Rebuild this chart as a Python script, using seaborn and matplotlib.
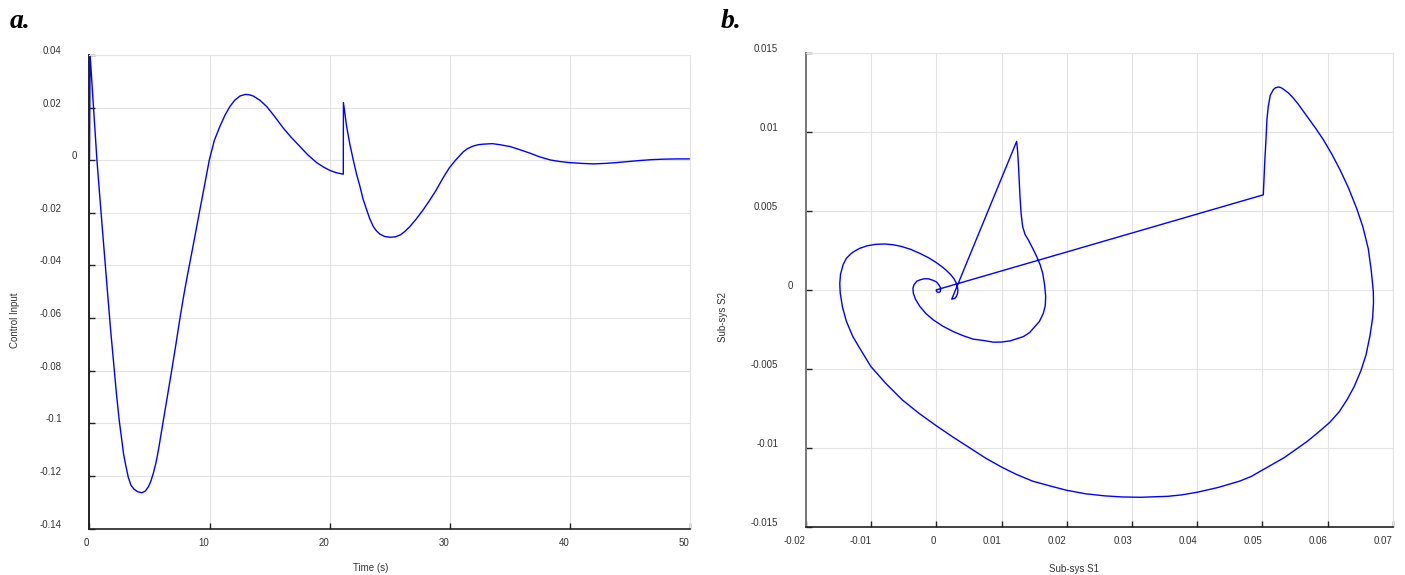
import numpy as np
import pandas as pd
import matplotlib
matplotlib.use("Agg")
import matplotlib.pyplot as plt
from matplotlib.transforms import ScaledTranslation
import seaborn as sns

# ---- panel a: control input over time ----
time_s = [0.00, 0.05, 0.35, 0.62, 1.00, 1.48, 1.75, 2.07, 2.25, 2.48, 2.65, 2.85,
          3.00, 3.23, 3.45, 3.70, 4.00, 4.35, 4.65, 4.90, 5.10, 5.32, 5.55, 5.75,
          5.95, 6.15, 6.50, 6.90, 7.20, 7.54, 7.85, 8.15, 8.50, 8.85, 9.20, 9.60,
          9.98, 10.40, 10.88, 11.30, 11.70, 12.10, 12.54, 12.96, 13.30, 13.65,
          14.20, 14.77, 15.40, 16.15, 16.85, 17.54, 18.20, 18.93, 19.50, 20.04,
          20.60, 21.15, 21.16, 21.43, 21.70, 21.98, 22.25, 22.54, 22.80, 23.10,
          23.35, 23.65, 23.90, 24.20, 24.60, 25.10, 25.50, 25.90, 26.30, 26.70,
          27.20, 27.80, 28.35, 28.90, 29.45, 30.00, 30.50, 31.15, 31.50, 31.98,
          32.40, 32.80, 33.57, 34.20, 35.04, 35.80, 36.70, 37.50, 38.40, 39.20,
          40.00, 41.00, 42.00, 43.00, 43.90, 44.90, 45.90, 46.80, 47.80, 48.90,
          50.00]
control_input = [0.0000, 0.0400, 0.0190, 0.0000, -0.0220, -0.0490, -0.0640, -0.0800,
                 -0.0890, -0.0990, -0.1050, -0.1120, -0.1155, -0.1205, -0.1235,
                 -0.1250, -0.1260, -0.1264, -0.1258, -0.1242, -0.1222, -0.1190,
                 -0.1148, -0.1100, -0.1045, -0.0990, -0.0895, -0.0785, -0.0700,
                 -0.0600, -0.0515, -0.0440, -0.0357, -0.0273, -0.0188, -0.0092,
                 0.0000, 0.0075, 0.0130, 0.0172, 0.0204, 0.0228, 0.0244, 0.0250,
                 0.0249, 0.0244, 0.0228, 0.0204, 0.0168, 0.0122, 0.0085, 0.0052,
                 0.0020, -0.0009, -0.0026, -0.0039, -0.0048, -0.0053, 0.0219,
                 0.0128, 0.0060, 0.0001, -0.0052, -0.0100, -0.0148, -0.0189,
                 -0.0222, -0.0252, -0.0268, -0.0281, -0.0290, -0.0293, -0.0291,
                 -0.0284, -0.0270, -0.0252, -0.0225, -0.0189, -0.0152, -0.0113,
                 -0.0068, -0.0028, 0.0000, 0.0032, 0.0044, 0.0054, 0.0059, 0.0061,
                 0.0063, 0.0059, 0.0052, 0.0041, 0.0027, 0.0013, 0.0001, -0.0005,
                 -0.0009, -0.0012, -0.0014, -0.0012, -0.0009, -0.0005, -0.0001,
                 0.0002, 0.0004, 0.0005, 0.0005]

# ---- panel b: phase portrait of the two sub-systems ----
sub_s1 = [0.00000, 0.05014, 0.05035, 0.05055, 0.05070, 0.05090, 0.05120, 0.05167,
          0.05200, 0.05244, 0.05280, 0.05320, 0.05400, 0.05474, 0.05540, 0.05680,
          0.05820, 0.05934, 0.06060, 0.06190, 0.06320, 0.06446, 0.06540, 0.06624,
          0.06670, 0.06701, 0.06704, 0.06690, 0.06650, 0.06590, 0.06512, 0.06410,
          0.06305, 0.06180, 0.06029, 0.05860, 0.05683, 0.05510, 0.05339, 0.05170,
          0.05000, 0.04830, 0.04650, 0.04320, 0.04002, 0.03760, 0.03546, 0.03132,
          0.02850, 0.02581, 0.02290, 0.02001, 0.01740, 0.01477, 0.01230, 0.00995,
          0.00750, 0.00512, 0.00250, 0.00000, -0.00270, -0.00523, -0.00780,
          -0.01005, -0.01160, -0.01281, -0.01380, -0.01440, -0.01475, -0.01482,
          -0.01470, -0.01430, -0.01380, -0.01320, -0.01274, -0.01180, -0.01069,
          -0.00930, -0.00788, -0.00660, -0.00550, -0.00400, -0.00250, -0.00120,
          0.00000, 0.00080, 0.00150, 0.00220, 0.00270, 0.00300, 0.00320, 0.00330,
          0.00325, 0.00310, 0.00285, 0.00235,
          0.01231, 0.01245, 0.01257, 0.01270, 0.01282, 0.01300, 0.01323, 0.01360,
          0.01410, 0.01480, 0.01538, 0.01590, 0.01630, 0.01660, 0.01676, 0.01670,
          0.01640, 0.01580, 0.01512, 0.01430, 0.01333, 0.01230, 0.01129, 0.01000,
          0.00873, 0.00720, 0.00566, 0.00410, 0.00259, 0.00100, -0.00048, -0.00160,
          -0.00252, -0.00320, -0.00354, -0.00360, -0.00344, -0.00300, -0.00252,
          -0.00190, -0.00124, -0.00050, 0.00005, 0.00040, 0.00066, 0.00060,
          0.00045, 0.00020, 0.00000, 0.00000]
sub_s2 = [0.00000, 0.00601, 0.00800, 0.00950, 0.01080, 0.01160, 0.01230, 0.01266,
          0.01278, 0.01283, 0.01280, 0.01270, 0.01245, 0.01213, 0.01180, 0.01100,
          0.01020, 0.00950, 0.00862, 0.00760, 0.00645, 0.00515, 0.00400, 0.00260,
          0.00120, -0.00010, -0.00080, -0.00180, -0.00290, -0.00410, -0.00510,
          -0.00610, -0.00690, -0.00770, -0.00840, -0.00900, -0.00960, -0.01010,
          -0.01060, -0.01100, -0.01140, -0.01180, -0.01210, -0.01250, -0.01280,
          -0.01297, -0.01306, -0.01312, -0.01310, -0.01303, -0.01290, -0.01268,
          -0.01240, -0.01210, -0.01168, -0.01120, -0.01063, -0.01000, -0.00930,
          -0.00860, -0.00780, -0.00696, -0.00590, -0.00485, -0.00380, -0.00296,
          -0.00200, -0.00110, -0.00020, 0.00040, 0.00100, 0.00160, 0.00200, 0.00225,
          0.00240, 0.00262, 0.00278, 0.00288, 0.00290, 0.00285, 0.00276, 0.00257,
          0.00230, 0.00203, 0.00172, 0.00148, 0.00124, 0.00096, 0.00070, 0.00047,
          0.00025, 0.00000, -0.00022, -0.00040, -0.00053, -0.00059,
          0.00939, 0.00880, 0.00802, 0.00690, 0.00590, 0.00480, 0.00400, 0.00350,
          0.00316, 0.00260, 0.00211, 0.00160, 0.00106, 0.00030, -0.00042, -0.00100,
          -0.00148, -0.00200, -0.00232, -0.00270, -0.00296, -0.00310, -0.00323,
          -0.00330, -0.00331, -0.00320, -0.00312, -0.00290, -0.00264, -0.00230,
          -0.00190, -0.00150, -0.00106, -0.00060, -0.00021, 0.00010, 0.00032,
          0.00055, 0.00063, 0.00070, 0.00070, 0.00060, 0.00049, 0.00030, 0.00011,
          -0.00010, -0.00015, -0.00015, -0.00010, 0.00000]

# ---- tick values and labels ----
a_xticks = [0, 10, 20, 30, 40, 50]
a_xlabels = ["0", "10", "20", "30", "40", "50"]
a_yticks = [0.04, 0.02, 0.0, -0.02, -0.04, -0.06, -0.08, -0.10, -0.12, -0.14]
a_ylabels = ["0.04", "0.02", "0", "-0.02", "-0.04", "-0.06", "-0.08", "-0.1", "-0.12", "-0.14"]
b_xticks = [-0.02, -0.01, 0.0, 0.01, 0.02, 0.03, 0.04, 0.05, 0.06, 0.07]
b_xlabels = ["-0.02", "-0.01", "0", "0.01", "0.02", "0.03", "0.04", "0.05", "0.06", "0.07"]
b_yticks = [0.015, 0.01, 0.005, 0.0, -0.005, -0.01, -0.015]
b_ylabels = ["0.015", "0.01", "0.005", "0", "-0.005", "-0.01", "-0.015"]

df_a = pd.DataFrame({"Time (s)": time_s, "Control Input": control_input})
df_b = pd.DataFrame({"Sub-sys S1": sub_s1, "Sub-sys S2": sub_s2})

sns.set_theme(style="whitegrid")
plt.rcParams["font.family"] = ["Liberation Sans", "DejaVu Sans"]

W, H = 1405, 575
fig = plt.figure(figsize=(W / 100, H / 100), dpi=100)


def box(left, top, right, bottom):
    return [left / W, 1 - bottom / H, (right - left) / W, (bottom - top) / H]


ax_a = fig.add_axes(box(89.5, 55, 689.5, 528.5))
ax_b = fig.add_axes(box(806, 52.7, 1392.8, 527))

sns.lineplot(data=df_a, x="Time (s)", y="Control Input", ax=ax_a, sort=False,
             estimator=None, color="#0000ff", linewidth=1.0)
sns.lineplot(data=df_b, x="Sub-sys S1", y="Sub-sys S2", ax=ax_b, sort=False,
             estimator=None, color="#0000ff", linewidth=1.0)

TEXT = "#333333"


def style_axes(ax, xticks, xlabels, yticks, ylabels, xlim, ylim, left_col):
    ax.set_xlim(*xlim)
    ax.set_ylim(*ylim)
    ax.set_xticks(xticks)
    ax.set_xticklabels(xlabels)
    ax.set_yticks(yticks)
    ax.set_yticklabels(ylabels)
    ax.grid(True, color="#e3e3e3", linewidth=0.8)
    ax.set_facecolor("white")
    for side in ("top", "right"):
        ax.spines[side].set_color("#e3e3e3")
        ax.spines[side].set_linewidth(0.8)
    ax.spines["bottom"].set_color("#222222")
    ax.spines["bottom"].set_linewidth(1.2)
    ax.spines["left"].set_color(left_col)
    ax.spines["left"].set_linewidth(1.4)
    ax.tick_params(axis="both", direction="in", length=4, width=1.0,
                   colors="#222222", labelcolor=TEXT, labelsize=7,
                   bottom=True, left=True, top=False, right=False)
    ax.tick_params(axis="y", pad=20)
    ax.tick_params(axis="x", pad=6.5)
    for lab in ax.get_xticklabels():
        lab.set_ha("right")
    for lab in ax.get_yticklabels():
        dx = 0.15 if lab.get_text() == "0" else 0.0
        lab.set_transform(lab.get_transform() +
                          ScaledTranslation(dx, 0.05, fig.dpi_scale_trans))


style_axes(ax_a, a_xticks, a_xlabels, a_yticks, a_ylabels, (0, 50), (-0.14, 0.04), "#222222")
style_axes(ax_b, b_xticks, b_xlabels, b_yticks, b_ylabels, (-0.02, 0.07), (-0.015, 0.015), "#777777")

# axis titles
ax_a.set_xlabel("Time (s)", fontsize=7, color=TEXT, va="center", ha="center")
ax_a.xaxis.set_label_coords((371 - 89.5) / 600, -(568 - 528.5) / 473.5)
ax_a.set_ylabel("Control Input", fontsize=7, color=TEXT, va="center", ha="center")
ax_a.yaxis.set_label_coords((15 - 89.5) / 600, (528.5 - 320) / 473.5)

ax_b.set_xlabel("Sub-sys S1", fontsize=7, color=TEXT, va="center", ha="center")
ax_b.xaxis.set_label_coords((1074 - 806) / 586.8, -(568.5 - 527) / 474.3)
ax_b.set_ylabel("Sub-sys S2", fontsize=7, color=TEXT, va="center", ha="center")
ax_b.yaxis.set_label_coords((723 - 806) / 586.8, (527 - 317) / 474.3)

# panel letters
for txt, xp in (("a.", 10), ("b.", 721)):
    fig.text(xp / W, 1 - 28 / H, txt, family=["Liberation Serif", "DejaVu Serif"],
             fontsize=20, fontweight="bold", fontstyle="italic", color="black",
             ha="left", va="baseline")

fig.savefig("out.png", dpi=100, facecolor="white")
